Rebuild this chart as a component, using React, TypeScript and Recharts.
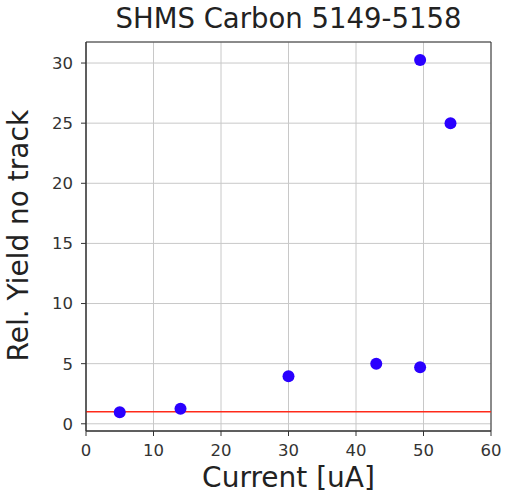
import {
  CartesianGrid,
  ReferenceArea,
  ReferenceLine,
  Scatter,
  ScatterChart,
  XAxis,
  YAxis,
} from "recharts";

const currents = [5, 14, 30, 43, 49.5, 49.5, 54];
const relYield = [0.95, 1.25, 3.95, 5.0, 4.7, 30.25, 25.0];
const xTicks = [0, 10, 20, 30, 40, 50, 60];
const yTicks = [0, 5, 10, 15, 20, 25, 30];

const points = currents.map((x, i) => ({ x, y: relYield[i] }));

const font = "'DejaVu Sans', sans-serif";
const tickStyle = { fontSize: 16.5, fill: "#333", fontFamily: font };

export default function App() {
  return (
    <div style={{ position: "absolute", left: 0, top: 0, width: 505, height: 495, background: "#fff" }}>
      <div
        style={{
          position: "absolute",
          left: 86,
          width: 405,
          top: 2,
          textAlign: "center",
          fontFamily: font,
          fontSize: 27.5,
          color: "#222",
          whiteSpace: "nowrap",
        }}
      >
        SHMS Carbon 5149-5158
      </div>
      <ScatterChart
        width={505}
        height={495}
        margin={{ top: 42, right: 14, bottom: 0, left: 0 }}
      >
        <CartesianGrid stroke="#c8c8c8" strokeWidth={1} />
        <XAxis
          type="number"
          dataKey="x"
          domain={[0, 60]}
          ticks={xTicks}
          height={64}
          tick={tickStyle}
          tickSize={5}
          tickMargin={8}
          axisLine={{ stroke: "#333" }}
          tickLine={{ stroke: "#333" }}
          label={{ value: "Current [uA]", position: "insideBottom", offset: 8, style: { fontSize: 28, fill: "#222", fontFamily: font } }}
        />
        <YAxis
          type="number"
          dataKey="y"
          domain={[-0.6, 31.75]}
          ticks={yTicks}
          width={86}
          tick={tickStyle}
          tickSize={5}
          tickMargin={8}
          axisLine={{ stroke: "#333" }}
          tickLine={{ stroke: "#333" }}
          label={{ value: "Rel. Yield no track", angle: -90, position: "insideLeft", offset: 18, dy: 125, style: { fontSize: 28, fill: "#222", fontFamily: font } }}
        />
        <ReferenceArea x1={0} x2={60} y1={-0.6} y2={31.75} fill="none" stroke="#333" strokeWidth={1} ifOverflow="visible" />
        <ReferenceLine y={1} stroke="#ff2a1a" strokeWidth={1.5} />
        <Scatter
          data={points}
          isAnimationActive={false}
          shape={(p: any) => <circle cx={p.cx} cy={p.cy} r={6} fill="#2a00ff" />}
        />
      </ScatterChart>
    </div>
  );
}
